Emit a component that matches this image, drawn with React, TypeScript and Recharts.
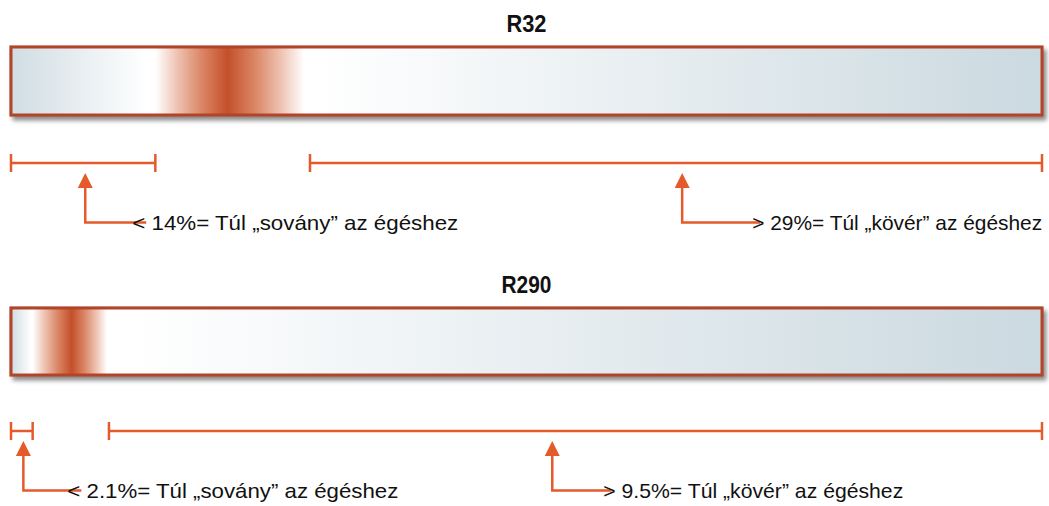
import { ComposedChart, XAxis, YAxis, ReferenceArea, ReferenceLine, ReferenceDot } from 'recharts';

// flammability range of the two refrigerants, % vol in air
const refrigerants = ['R32', 'R290'];
const lowerLimit = [14, 2.1];
const upperLimit = [29, 9.5];
const peakAt = [21, 5.9];
const leanArrowAt = [7.2, 1.2];
const richArrowAt = [65.1, 52.5];
const leanLabels = ['< 14%= Túl \u201Esovány\u201D az égéshez', '< 2.1%= Túl \u201Esovány\u201D az égéshez'];
const richLabels = ['> 29%= Túl \u201Ekövér\u201D az égéshez', '> 9.5%= Túl \u201Ekövér\u201D az égéshez'];

// layout (pixels)
const rows = [
  { titleY: 32, titleW: 40, barTop: 47, barBottom: 115, rangeY: 163, leanGap: 47, leanW: 326, richGap: 70, richW: 290, whiteAfter: 30 },
  { titleY: 293, titleW: 50, barTop: 308, barBottom: 375, rangeY: 431, leanGap: 44, leanW: 331, richGap: 51, richW: 300, whiteAfter: 12 },
];

const ORANGE = '#e55a2b';
const BLUE = '#cbd9e0';
const FONT = '"Liberation Sans", Arial, sans-serif';

function gradientStops(i: number) {
  const lo = lowerLimit[i];
  const hi = upperLimit[i] * 0.98;
  const pk = peakAt[i];
  return [
    { o: 0, c: '#d0dde3' },
    { o: lo * 0.95, c: '#ffffff' },
    { o: lo, c: '#ffffff' },
    { o: lo + (pk - lo) * 0.3, c: '#eec3b3' },
    { o: lo + (pk - lo) * 0.65, c: '#da8464' },
    { o: pk, c: '#c4502a' },
    { o: pk + (hi - pk) * 0.35, c: '#da8464' },
    { o: pk + (hi - pk) * 0.7, c: '#eec3b3' },
    { o: hi, c: '#ffffff' },
    { o: rows[i].whiteAfter, c: '#ffffff' },
    { o: 100, c: BLUE },
  ];
}

const barShape = (i: number) => (props: any) => {
  const { x, y, width, height } = props;
  const r = rows[i];
  return (
    <g>
      <defs>
        <linearGradient id={`grad-${i}`} x1="0" y1="0" x2="1" y2="0">
          {gradientStops(i).map((s, k) => (
            <stop key={k} offset={`${s.o}%`} stopColor={s.c} />
          ))}
        </linearGradient>
        <filter id={`shadow-${i}`} x="-5%" y="-30%" width="110%" height="170%">
          <feDropShadow dx="3" dy="4" stdDeviation="2.2" floodColor="#000" floodOpacity="0.45" />
        </filter>
      </defs>
      <rect
        x={x - 1}
        y={y - 1}
        width={width + 2}
        height={height + 2}
        fill="none"
        stroke="#e3a795"
        strokeWidth={1}
      />
      <rect
        x={x}
        y={y}
        width={width}
        height={height}
        fill={`url(#grad-${i})`}
        stroke="#b0442a"
        strokeWidth={3}
        filter={`url(#shadow-${i})`}
      />
      <text
        x={x + width / 2 - r.titleW / 2}
        y={r.titleY}
        textLength={r.titleW}
        lengthAdjust="spacingAndGlyphs"
        fontFamily={FONT}
        fontWeight="bold"
        fontSize={24}
        fill="#111"
      >
        {refrigerants[i]}
      </text>
    </g>
  );
};

const callout = (label: string, gap: number, w: number, over: number) => (props: any) => {
  const { cx, cy } = props;
  const tip = cy + 10;
  const elbow = cy + 59.5;
  return (
    <g>
      <polygon points={`${cx},${tip} ${cx - 7.5},${tip + 15} ${cx + 7.5},${tip + 15}`} fill={ORANGE} />
      <polyline
        points={`${cx},${tip + 14} ${cx},${elbow} ${cx + gap + over},${elbow}`}
        fill="none"
        stroke={ORANGE}
        strokeWidth={2.5}
      />
      <text
        x={cx + gap}
        y={elbow + 7}
        textLength={w}
        lengthAdjust="spacingAndGlyphs"
        fontFamily={FONT}
        fontSize={21}
        fill="#111"
      >
        {label}
      </text>
    </g>
  );
};

export default function App() {
  return (
    <div style={{ position: 'absolute', left: 0, top: 0, background: '#fff' }}>
      <ComposedChart width={1049} height={506} data={[]} margin={{ top: 0, right: 7, bottom: 0, left: 11 }}>
        <XAxis type="number" dataKey="x" domain={[0, 100]} hide allowDataOverflow />
        <YAxis type="number" domain={[0, 506]} reversed hide allowDataOverflow />
        {refrigerants.map((name, i) => {
          const r = rows[i];
          const capTop = r.rangeY - 9;
          const capBottom = r.rangeY + 9;
          const ends = [0, lowerLimit[i], upperLimit[i], 100];
          return [
            <ReferenceArea
              key={`bar-${name}`}
              x1={0}
              x2={100}
              y1={r.barTop}
              y2={r.barBottom}
              shape={barShape(i)}
              ifOverflow="visible"
            />,
            <ReferenceLine
              key={`lean-${name}`}
              segment={[{ x: 0, y: r.rangeY }, { x: lowerLimit[i], y: r.rangeY }]}
              stroke={ORANGE}
              strokeWidth={2.5}
              ifOverflow="visible"
            />,
            <ReferenceLine
              key={`rich-${name}`}
              segment={[{ x: upperLimit[i], y: r.rangeY }, { x: 100, y: r.rangeY }]}
              stroke={ORANGE}
              strokeWidth={2.5}
              ifOverflow="visible"
            />,
            ...ends.map((e, k) => (
              <ReferenceLine
                key={`cap-${name}-${k}`}
                segment={[{ x: e, y: capTop }, { x: e, y: capBottom }]}
                stroke={ORANGE}
                strokeWidth={2.5}
                ifOverflow="visible"
              />
            )),
            <ReferenceDot
              key={`lean-call-${name}`}
              x={leanArrowAt[i]}
              y={r.rangeY}
              r={1}
              shape={callout(leanLabels[i], r.leanGap, r.leanW, 14)}
              ifOverflow="visible"
            />,
            <ReferenceDot
              key={`rich-call-${name}`}
              x={richArrowAt[i]}
              y={r.rangeY}
              r={1}
              shape={callout(richLabels[i], r.richGap, r.richW, 8)}
              ifOverflow="visible"
            />,
          ];
        })}
      </ComposedChart>
    </div>
  );
}
